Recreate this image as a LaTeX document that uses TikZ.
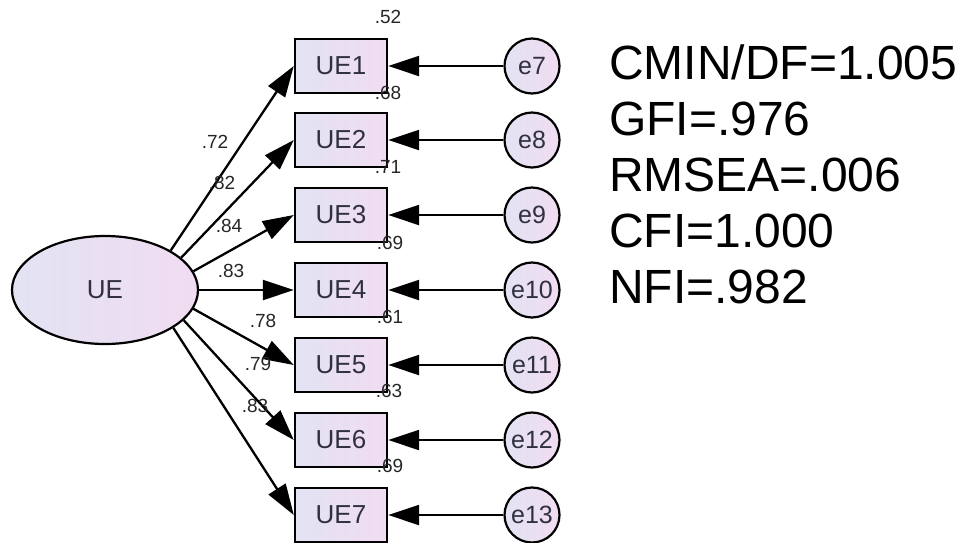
\documentclass[tikz,border=0pt]{standalone}
\usepackage{fontspec}
\setmainfont{Liberation Sans}
\usetikzlibrary{arrows.meta,shapes.geometric}
\definecolor{fillL}{HTML}{E2E3F3}
\definecolor{fillR}{HTML}{F1DCF1}
\definecolor{txt}{HTML}{303040}
\begin{document}
\begin{tikzpicture}[x=1pt,y=-1pt,
  obs/.style={draw=black, line width=2.4pt, minimum width=92pt, minimum height=54pt,
    left color=fillL, right color=fillR, inner sep=0pt,
    font=\fontsize{26}{26}\selectfont, text=txt},
  err/.style={draw=black, line width=2.2pt, circle, minimum size=55pt, inner sep=0pt,
    left color=fillL, right color=fillR, font=\fontsize{25}{25}\selectfont, text=txt},
  lat/.style={draw=black, line width=2.2pt, ellipse, minimum width=186pt, minimum height=108pt,
    inner sep=0pt, left color=fillL, right color=fillR,
    font=\fontsize{26}{26}\selectfont, text=txt},
  small/.style={font=\fontsize{19}{19}\selectfont, text=black!85, inner sep=0pt},
  fit/.style={font=\fontsize{48}{48}\selectfont, anchor=base west, inner sep=0pt},
  arr/.style={line width=2.3pt, -{Triangle[length=31pt,width=20pt]}}
]
\useasboundingbox (0,0) rectangle (964,542);
\node[lat] (UE) at (105,290) {UE};
\foreach \i/\e/\y in {1/7/66, 2/8/140, 3/9/215, 4/10/290, 5/11/365, 6/12/440, 7/13/515}{
  \node[obs] (UE\i) at (341,\y) {UE\i};
  \node[err] (e\e) at (532,\y) {e\e};
  \draw[arr] (e\e) -- (UE\i);
}
\draw[arr] (UE.31) -- (UE1.west);
\draw[arr] (UE.23) -- (UE2.west);
\draw[arr] (UE.12) -- (UE3.west);
\draw[arr] (UE.0) -- (UE4.west);
\draw[arr] (UE.-12) -- (UE5.west);
\draw[arr] (UE.-21) -- (UE6.west);
\draw[arr] (UE.-29) -- (UE7.west);
% loadings
\node[small] (l1) at (215,142) {.72};
\node[small] (l2) at (222,183) {.82};
\node[small] (l3) at (229,226) {.84};
\node[small] (l4) at (231,271) {.83};
\node[small] (l5) at (263,321) {.78};
\node[small] (l6) at (258,364) {.79};
\node[small] (l7) at (255,406) {.83};
% R squared
\node[small] (r1) at (388,17) {.52};
\node[small] (r2) at (388,93) {.68};
\node[small] (r3) at (388,167) {.71};
\node[small] (r4) at (390,243) {.69};
\node[small] (r5) at (390,317) {.61};
\node[small] (r6) at (389,391) {.63};
\node[small] (r7) at (390,466) {.69};
% fit indices
\node[fit] (f1) at (609,79) {CMIN/DF=1.005};
\node[fit] (f2) at (609,135) {GFI=.976};
\node[fit] (f3) at (609,191) {RMSEA=.006};
\node[fit] (f4) at (609,247) {CFI=1.000};
\node[fit] (f5) at (609,303) {NFI=.982};
\end{tikzpicture}
\end{document}
